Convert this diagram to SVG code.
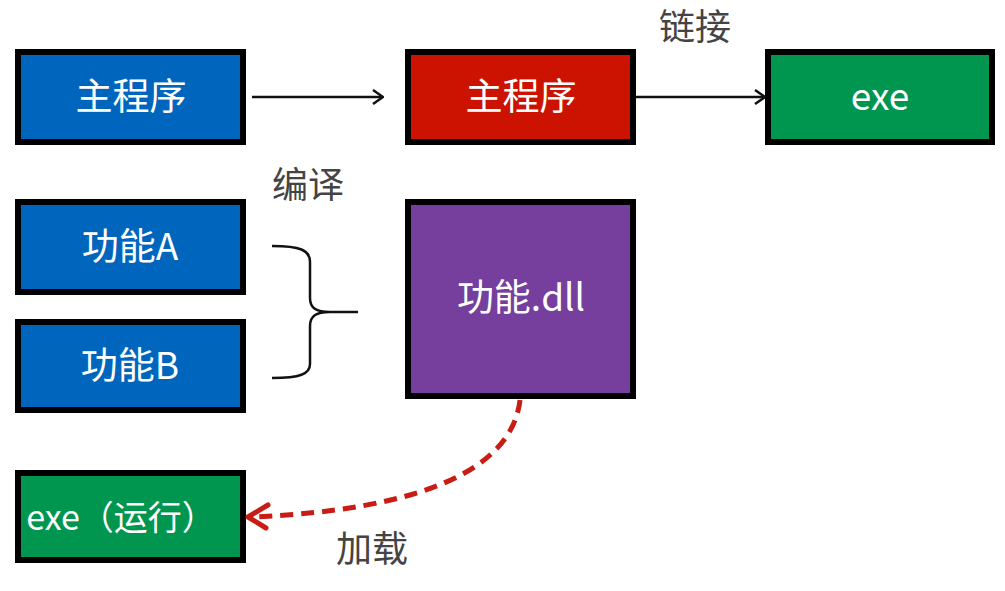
<svg xmlns="http://www.w3.org/2000/svg" width="1005" height="591" viewBox="0 0 1005 591">
<style>
.box{stroke:#000;stroke-width:6}
.t{font-family:"Noto Sans CJK SC","Noto Sans",sans-serif;font-size:37px;fill:#fff;text-anchor:middle}
.lbl{font-family:"Noto Sans CJK SC","Noto Sans",sans-serif;font-size:36px;fill:#444;text-anchor:middle}
.conn{fill:none;stroke:#111;stroke-width:2.5}
</style>
<defs>
<marker id="ah" viewBox="0 0 12 16" refX="11" refY="8" markerWidth="12" markerHeight="16" markerUnits="userSpaceOnUse" orient="auto">
<path d="M1,1 L11,8 L1,15" fill="none" stroke="#111" stroke-width="2.5"/>
</marker>
</defs>
<rect width="1005" height="591" fill="#fff"/>
<g id="main-src">
<rect class="box" x="18" y="52" width="225" height="90" fill="#0066bd"/>
<text class="t" x="131" y="110">主程序</text>
</g>
<g id="main-obj">
<rect class="box" x="408" y="52" width="225" height="90" fill="#cc1200"/>
<text class="t" x="521" y="110">主程序</text>
</g>
<g id="exe">
<rect class="box" x="768" y="52" width="224" height="90" fill="#00964f"/>
<text class="t" x="880" y="110">exe</text>
</g>
<g id="funcA">
<rect class="box" x="18" y="202" width="225" height="90" fill="#0066bd"/>
<text class="t" x="130" y="260">功能A</text>
</g>
<g id="funcB">
<rect class="box" x="18" y="322" width="225" height="88" fill="#0066bd"/>
<text class="t" x="130" y="379">功能B</text>
</g>
<g id="dll">
<rect class="box" x="408" y="202" width="225" height="194" fill="#763e9d"/>
<text class="t" x="521" y="311">功能.dll</text>
</g>
<g id="exe-run">
<rect class="box" x="18" y="473" width="225" height="87" fill="#00964f"/>
<text class="t" x="121" y="530" style="font-size:34px">exe（运行）</text>
</g>
<g id="labels">
<text class="lbl" x="695" y="40">链接</text>
<text class="lbl" x="308" y="198">编译</text>
<text class="lbl" x="372" y="562">加载</text>
</g>
<g id="connectors">
<line class="conn" x1="252" y1="97" x2="383" y2="97" marker-end="url(#ah)"/>
<line class="conn" x1="636" y1="97" x2="765" y2="97" marker-end="url(#ah)"/>
<path class="conn" d="M272,246 C300,246 310,250 310,262 L310,298 C310,308 316,312 330,312 L358,312 M330,312 C316,312 310,316 310,326 L310,364 C310,374 300,378 272,378"/>
<path d="M520,400 C512,470 420,510 252,517" fill="none" stroke="#c91c14" stroke-width="5" stroke-dasharray="13,8"/>
<path d="M268,505 L248,517 L266,528" fill="none" stroke="#c91c14" stroke-width="5" stroke-linecap="round" stroke-linejoin="round"/>
</g>
</svg>
